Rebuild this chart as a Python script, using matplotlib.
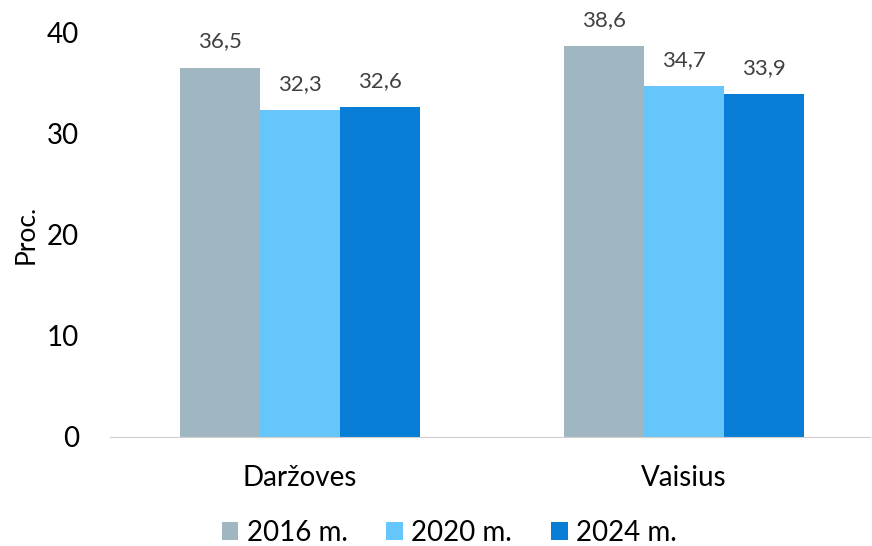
import matplotlib.pyplot as plt
import numpy as np

plt.rcParams['font.family'] = ['Lato', 'DejaVu Sans']

categories = ['Daržoves', 'Vaisius']
years = ['2016 m.', '2020 m.', '2024 m.']
values = [
    [36.5, 38.6],
    [32.3, 34.7],
    [32.6, 33.9],
]
colors = ['#A0B6C0', '#66C5FA', '#077DD5']

fig = plt.figure(figsize=(8.72, 5.46), dpi=100)
ax = fig.add_axes([0.126, 0.2, 0.872, 0.741])

x = np.arange(len(categories))
w = 0.208
for i, (yr, vals) in enumerate(zip(years, values)):
    bars = ax.bar(x + (i - 1) * w, vals, w, color=colors[i], label=yr)
    for b, v in zip(bars, vals):
        ax.text(b.get_x() + b.get_width() / 2, v + 1.6, f'{v:.1f}'.replace('.', ','),
                ha='center', va='bottom', fontsize=16, color='#404040')

ax.set_xlim(-0.495, 1.485)
ax.set_ylim(0, 40)
ax.set_yticks([0, 10, 20, 30, 40])
ax.set_xticks(x)
ax.set_xticklabels(categories)
ax.tick_params(axis='both', length=0, labelsize=20, colors='#000000')
ax.tick_params(axis='x', labelsize=20, pad=20)
ax.tick_params(axis='y', pad=22)
ax.set_ylabel('Proc.', fontsize=19, labelpad=6)
for s in ['top', 'right', 'left']:
    ax.spines[s].set_visible(False)
ax.spines['bottom'].set_color('#D0D0D0')

fig.legend(loc='lower center', bbox_to_anchor=(0.515, -0.045), ncol=3, frameon=False,
           fontsize=20, handlelength=0.6, handleheight=0.6, handletextpad=0.3,
           columnspacing=1.4)

fig.savefig('out.png', dpi=100)
